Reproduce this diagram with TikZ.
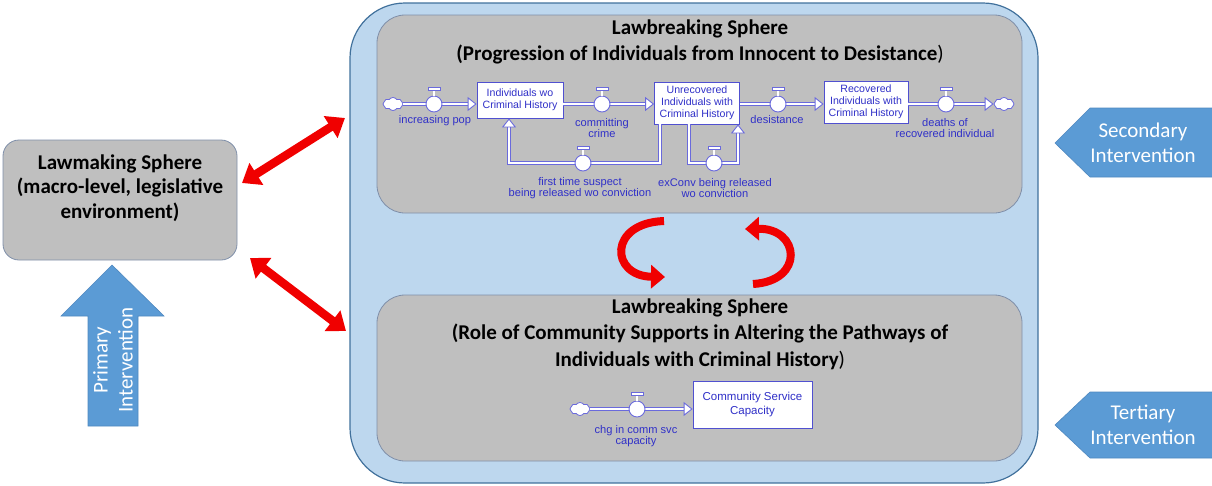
\documentclass[tikz,border=0pt]{standalone}
\usepackage{fontspec}
\setmainfont{Carlito}
\newfontfamily\sfarial{Liberation Sans}
\usetikzlibrary{arrows.meta,shapes.symbols,calc}

\definecolor{bigfill}{HTML}{BDD7EE}
\definecolor{bigdraw}{HTML}{41719C}
\definecolor{grayfill}{HTML}{BFBFBF}
\definecolor{graydraw}{HTML}{7F8FA9}
\definecolor{intervfill}{HTML}{5B9BD5}
\definecolor{intervdraw}{HTML}{4F88BF}
\definecolor{sftext}{HTML}{3030C8}
\definecolor{stockdraw}{HTML}{5050D0}
\definecolor{pipedraw}{HTML}{6A6ADC}
\definecolor{redarrow}{HTML}{F00000}

\begin{document}
\begin{tikzpicture}[x=1pt,y=-1pt,
  bigbox/.style={draw=bigdraw, fill=bigfill, line width=1.2pt, rounded corners=55pt,
    minimum width=688pt, minimum height=480pt, inner sep=0},
  graybox/.style={draw=graydraw, fill=grayfill, line width=0.8pt, rounded corners=28pt,
    minimum width=645pt, inner sep=0},
  lawbox/.style={draw=graydraw, fill=grayfill, line width=0.8pt, rounded corners=16pt,
    minimum width=234pt, minimum height=120pt, inner sep=0},
  title/.style={font=\bfseries\fontsize{21}{26.5}\selectfont, align=center, text=black, inner sep=0},
  stock/.style={draw=stockdraw, fill=white, line width=0.8pt, text=sftext,
    font=\sfarial\fontsize{10.6}{12}\selectfont, align=center, inner sep=0},
  flowlabel/.style={text=sftext, font=\sfarial\fontsize{11.1}{11.5}\selectfont, align=center, inner sep=0},
  pipe/.style={draw=pipedraw, double=white, double distance=2.4pt, line width=0.9pt},
  pipetip/.style={white, line width=2pt,
    -{Triangle[color=pipedraw, fill=white, length=9pt, width=14pt, line width=0.9pt]}},
  valve/.style={circle, draw=pipedraw, fill=white, line width=0.9pt, minimum size=16pt, inner sep=0},
  cloudnode/.style={cloud, cloud puffs=8, cloud puff arc=110, draw=pipedraw, fill=white,
    line width=0.8pt, minimum width=20pt, minimum height=13pt, inner sep=0, aspect=1.5},
  linkarrow/.style={draw=redarrow, line width=8.5pt,
    {Triangle[length=17pt,width=25pt]}-{Triangle[length=17pt,width=25pt]}},
  turnarrow/.style={draw=redarrow, line width=8pt, -{Triangle[length=14pt,width=23pt]}},
  interv/.style={fill=intervfill, draw=intervdraw, line width=0.6pt},
  intervtext/.style={text=white, font=\fontsize{21}{25}\selectfont, align=center, inner sep=0}
]
\useasboundingbox (0,0) rectangle (1212,485);

% outer lawbreaking container and the two spheres inside it
\node[bigbox] (outer) at (694,243) {};
\node[graybox, minimum height=198pt] (top) at (699.5,114) {};
\node[graybox, minimum height=166pt] (bottom) at (699.5,378) {};

\node[title] (toptitle) at (700,42)
  {Lawbreaking Sphere\\(Progression of Individuals from Innocent to Desistance{\mdseries )}};
\node[title] (bottomtitle) at (700,334)
  {Lawbreaking Sphere\\(Role of Community Supports in Altering the Pathways of\\Individuals with Criminal History{\mdseries )}};

% lawmaking sphere
\node[lawbox] (law) at (120,200) {};
\node[title, font=\bfseries\fontsize{21}{24.5}\selectfont] (lawtitle) at (120,188)
  {Lawmaking Sphere\\(macro-level, legislative\\environment)};

% ---------- stock and flow structure: progression ----------
\node[cloudnode] (c1) at (393,104) {};
\node[stock, minimum width=86pt, minimum height=36pt] (s1) at (520,100) {Individuals wo\\Criminal History};
\node[stock, minimum width=85pt, minimum height=42pt] (s2) at (697,103) {Unrecovered\\Individuals with\\Criminal History};
\node[stock, minimum width=84pt, minimum height=42pt] (s3) at (866,102) {Recovered\\Individuals with\\Criminal History};
\node[cloudnode] (c2) at (1004,104) {};

\coordinate (v1p) at (434,104);
\coordinate (v2p) at (602,104);
\coordinate (v3p) at (778,104);
\coordinate (v4p) at (946,104);
\coordinate (l1a) at (660,163);
\coordinate (l1b) at (509,163);
\coordinate (l2a) at (689,163);
\coordinate (l2b) at (738,163);

% pipes
\draw[pipe, shorten >=8pt] (c1.east) -- (s1.west |- v1p);
\draw[pipe, shorten >=8pt] (s1.east |- v2p) -- (s2.west |- v2p);
\draw[pipe, shorten >=8pt] (s2.east |- v3p) -- (s3.west |- v3p);
\draw[pipe, shorten >=8pt] (s3.east |- v4p) -- (c2.west);
\draw[pipe, shorten >=8pt] (s2.south -| l1a) -- (l1a) -- (l1b) -- (s1.south -| l1b);
\draw[pipe, shorten >=8pt] (s2.south -| l2a) -- (l2a) -- (l2b) -- (s2.south -| l2b);

% pipe heads
\draw[pipetip] (v1p) -- (s1.west |- v1p);
\draw[pipetip] (v2p) -- (s2.west |- v2p);
\draw[pipetip] (v3p) -- (s3.west |- v3p);
\draw[pipetip] (v4p) -- (c2.west);
\draw[pipetip] (l1b) -- (s1.south -| l1b);
\draw[pipetip] (l2b) -- (s2.south -| l2b);

% valves
\node[valve] (v1) at (v1p) {};
\node[valve] (v2) at (v2p) {};
\node[valve] (v3) at (v3p) {};
\node[valve] (v4) at (v4p) {};
\node[valve] (v5) at (583,163) {};
\node[valve] (v6) at (714,163) {};

% flow labels
\node[flowlabel] (f1) at (435,121) {increasing pop};
\node[flowlabel] (f2) at (602,128) {committing\\crime};
\node[flowlabel] (f3) at (777,120) {desistance};
\node[flowlabel] (f4) at (945,128) {deaths of\\recovered individual};
\node[flowlabel] (f5) at (580,188) {first time suspect\\being released wo conviction};
\node[flowlabel] (f6) at (715,188) {exConv being released\\wo conviction};

% ---------- stock and flow structure: community supports ----------
\node[cloudnode] (c3) at (580,409) {};
\node[stock, minimum width=119pt, minimum height=47pt,
  font=\sfarial\fontsize{11.5}{13.5}\selectfont] (s4) at (752.5,404.5) {Community Service\\Capacity};
\coordinate (v7p) at (637,409);
\draw[pipe, shorten >=8pt] (c3.east) -- (s4.west |- v7p);
\draw[pipetip] (v7p) -- (s4.west |- v7p);
\node[valve] (v7) at (v7p) {};
\node[flowlabel] (f7) at (636,436) {chg in comm svc\\capacity};

% valve stems and handles
\foreach \v in {v1,v2,v3,v4,v5,v6,v7} {
  \draw[pipedraw, line width=0.8pt, double=white, double distance=1.2pt] (\v.north) -- ++(0,-5);
  \filldraw[fill=white, draw=pipedraw, line width=0.8pt]
    ([xshift=-6pt,yshift=5pt]\v.north) rectangle ++(12,-3.5);
}

% ---------- links between spheres ----------
\coordinate (la1) at (242,183);
\coordinate (la2) at (345,118);
\coordinate (lb1) at (250,258);
\coordinate (lb2) at (346,331);
\draw[linkarrow] (la1) -- (la2);
\draw[linkarrow] (lb1) -- (lb2);

\coordinate (ta1) at (664,221);
\coordinate (ta2) at (665,277);
\coordinate (tb1) at (753,284);
\coordinate (tb2) at (745,229);
\draw[turnarrow] (ta1) .. controls (608,223) and (610,276) .. (ta2);
\draw[turnarrow] (tb1) .. controls (805,281) and (800,228) .. (tb2);

% ---------- intervention arrows ----------
\filldraw[interv] (88,426) -- (88,316) -- (61,316) -- (112,265) -- (164,316)
  -- (138,316) -- (138,426) -- cycle;
\node[intervtext, rotate=90] (primary) at (113,360) {Primary\\Intervention};

\filldraw[interv] (1213,108) -- (1090,108) -- (1055,143) -- (1090,177) -- (1213,177) -- cycle;
\node[intervtext] (secondary) at (1143,143) {Secondary\\Intervention};

\filldraw[interv] (1213,392) -- (1090,392) -- (1055,425) -- (1090,458) -- (1213,458) -- cycle;
\node[intervtext] (tertiary) at (1143,425) {Tertiary\\Intervention};
\end{tikzpicture}
\end{document}
